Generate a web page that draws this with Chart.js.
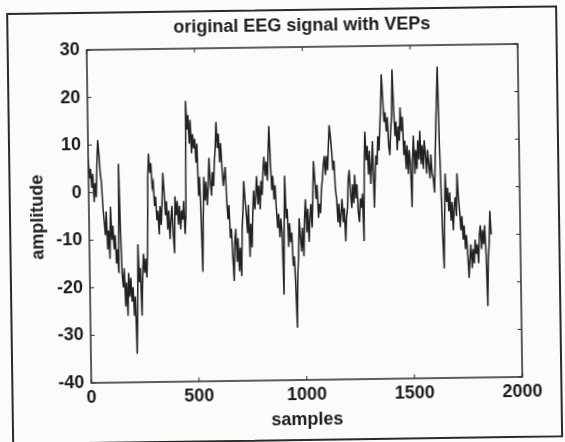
<!DOCTYPE html>
<html>
<head>
<meta charset="utf-8">
<script src="https://cdn.jsdelivr.net/npm/chart.js@4/dist/chart.umd.min.js"></script>
<style>
  html, body { margin: 0; padding: 0; background: #fbfbf9; }
  #wrap { position: relative; width: 565px; height: 442px; transform: rotate(-0.8deg); transform-origin: 300px 215px; }
  #frame { position: absolute; left: 9px; top: 9px; width: 547px; height: 428px; border: 2px solid #2a2a2a; }
  canvas { position: absolute; left: 0; top: 0; }
</style>
</head>
<body>
<div id="wrap">
  <div id="frame"></div>
  <canvas id="eeg" width="565" height="442"></canvas>
</div>
<script>
// amplitude, one value every 5 samples
const amplitude = [
  7, 3, 5, 1, 4, -2, 2, -1, 6, 11, 8, 4, 2, -3, -6, -9, -4, -12, -8, -14,
  -3, -10, -7, -12, -9, -15, -12, -17, 6, -8, -17, -20, -16, -24, -19, -26, -17, -22, -18, -23,
  -20, -26, -22, -34, -25, -11, -19, -16, -26, -18, -13, -17, -14, -18, -12, 3, 8, 4, 6, 1,
  2, -3, -1, -6, -4, -9, -3, -7, -2, 4, 0, -5, -2, -8, -4, -10, -6, -3, -9, -13,
  -1, -5, -2, -7, -3, -8, -4, -6, -2, -9, -5, 19, 13, 16, 10, 15, 8, 12, 9, 11,
  6, 10, -1, 3, -5, -17, -6, 3, -2, 2, -3, 1, 7, 2, -1, 4, 1, 6, 9, 14.5,
  9, 12, 6, 10, 5, 1, 3, 5, -2, -6, -3, -10, -8, -14, -19, -11, -8, -15, -10, -17,
  -12, -18, -8, -4, 2, -2, -5, -9, -3, -14, -7, -12, -5, 0, -4, -1, 3, -3, 1, -4,
  2, -1, 4, 7, 3, 6, 2, 8, 13.5, 6, 0, 3, -2, 1, -4, -8, -5, -10, -6, -9,
  -22, -8, 3, -6, -4, -12, -7, -11, -9, -16, -14, -20, -29, -18, -14, -6, -10, -13, -8, -14,
  -6, -2, -9, -4, -11, -6, -3, -8, -1, 6, 2, -2, 1, -6, -3, -5, 0, 2, 5, 7,
  3, 7, 4, 9, 13.5, 11, 8, 4, 6, 0, -2, -7, -3, -8, -5, -2, -7, -4, -11, -6,
  -4, 2, 4, -1, -4, 1, -3, 3, -2, 1, -5, -7, -2, -4, -1, -11, 4, 12, 6, 9,
  3, 8, 1, 5, 10, -4, 2, 7, 5, 11, 8, 13, 17, 24, 19, 14, 16, 12, 15, 9,
  7, 12, 15, 25, 17, 11, 14, 8, 13, 10, 17, 12, 15, 7, 10, 4, 9, 3, 8, 5,
  -4, 6, 11, 3, 8, 4, 10, 6, 12, 5, 9, 4, 10, 7, 3, 8, 5, 2, 7, 3,
  2, -1, 6, 13.5, 19, 25.5, 10, 0, -10, -17, -6, 3, -3, 0, -5, -1, -7, -3, -9, -4,
  -2, -6, 3, -2, -5, -9, -6, -11, -8, -13, -10, -14, -19, -15, -12, -17, -13, -16, -11, -14,
  -12, -16, -10, -8, -13, -9, -12, -8, -14, -25, -15, -12, -5, -10
];
const samples = amplitude.map((v, i) => i * 5);
const xTicks = [0, 500, 1000, 1500, 2000];
const yTicks = [-40, -30, -20, -10, 0, 10, 20, 30];
const titleText = 'original EEG signal with VEPs';

const ink = '#1c1c1c';
const fontFamily = 'Liberation Sans, Arial, sans-serif';
const labelFont = { family: fontFamily, size: 18, weight: 'bold' };

// matlab style box with inward ticks, title centred on the axes
const boxPlugin = {
  id: 'box',
  afterDraw(chart) {
    const { ctx, chartArea: a, scales } = chart;
    ctx.save();
    ctx.strokeStyle = '#2a2a2a';
    ctx.lineWidth = 1.5;
    ctx.strokeRect(a.left, a.top, a.right - a.left, a.bottom - a.top);
    ctx.lineWidth = 1;
    const len = 4;
    ctx.beginPath();
    xTicks.forEach(t => {
      const px = scales.x.getPixelForValue(t);
      ctx.moveTo(px, a.bottom); ctx.lineTo(px, a.bottom - len);
      ctx.moveTo(px, a.top); ctx.lineTo(px, a.top + len);
    });
    yTicks.forEach(t => {
      const py = scales.y.getPixelForValue(t);
      ctx.moveTo(a.left, py); ctx.lineTo(a.left + len, py);
      ctx.moveTo(a.right, py); ctx.lineTo(a.right - len, py);
    });
    ctx.stroke();
    ctx.fillStyle = ink;
    ctx.font = 'bold 18px ' + fontFamily;
    ctx.textAlign = 'center';
    ctx.textBaseline = 'middle';
    ctx.fillText(titleText, (a.left + a.right) / 2, a.top - 21);
    ctx.restore();
  }
};

new Chart(document.getElementById('eeg'), {
  type: 'line',
  data: {
    labels: samples,
    datasets: [{
      data: samples.map((s, i) => ({ x: s, y: amplitude[i] })),
      borderColor: '#222222',
      borderWidth: 1.5,
      pointRadius: 0,
      tension: 0,
      fill: false
    }]
  },
  options: {
    responsive: false,
    animation: false,
    layout: { padding: { left: 12, right: 45, top: 47, bottom: 0 } },
    plugins: {
      legend: { display: false },
      tooltip: { enabled: false },
      title: { display: false }
    },
    scales: {
      x: {
        type: 'linear',
        min: 0,
        max: 2000,
        afterBuildTicks: s => { s.ticks = xTicks.map(v => ({ value: v })); },
        afterFit: s => { s.height = 62; },
        grid: { display: false, drawTicks: false, tickLength: 0 },
        border: { display: false },
        ticks: { color: ink, font: labelFont, padding: 4, maxRotation: 0, callback: v => String(v) },
        title: { display: true, text: 'samples', color: ink, font: labelFont, padding: { top: 0, bottom: 11 } }
      },
      y: {
        min: -40,
        max: 30,
        afterBuildTicks: s => { s.ticks = yTicks.map(v => ({ value: v })); },
        afterFit: s => { s.width = 77; },
        grid: { display: false, drawTicks: false, tickLength: 0 },
        border: { display: false },
        ticks: { color: ink, font: labelFont, padding: 7, callback: v => String(v) },
        title: { display: true, text: 'amplitude', color: ink, font: labelFont, padding: { top: 15, bottom: 0 } }
      }
    }
  },
  plugins: [boxPlugin]
});
</script>
</body>
</html>
